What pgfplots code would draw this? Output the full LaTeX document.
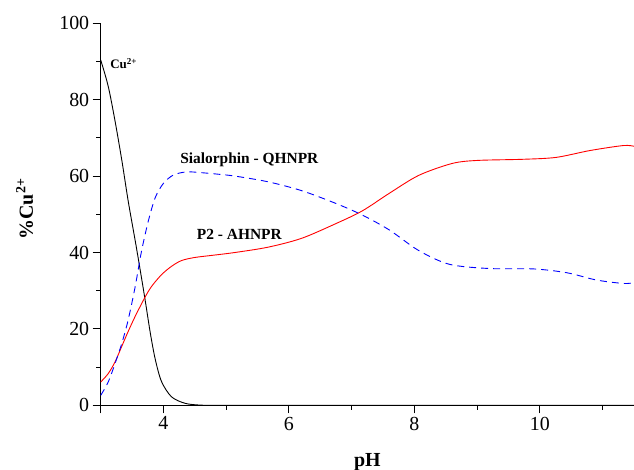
\documentclass[border=0pt]{standalone}
\usepackage{fontspec}
\setmainfont{Liberation Serif}
\usepackage{pgfplots}
\pgfplotsset{compat=1.18}
\begin{document}
\begin{tikzpicture}
\begin{axis}[
  scale only axis, width=533.3bp, height=382bp,
  xmin=3, xmax=11.5, ymin=0, ymax=100,
  axis lines*=left,
  xtick={3,4,6,8,10}, xticklabels={,4,6,8,10},
  minor xtick={5,7,9,11},
  ytick={0,20,40,60,80,100},
  minor ytick={10,30,50,70,90},
  tick align=outside,
  major tick length=8bp, minor tick length=4.5bp,
  tick style={black, line width=0.9bp},
  axis line style={line width=0.9bp},
  /pgf/number format/assume math mode=true,
  ticklabel style={font=\fontsize{20}{24}\selectfont},
  xlabel={pH}, ylabel={\%Cu\textsuperscript{2+}},
  label style={font=\fontsize{20}{24}\selectfont\bfseries},
  xlabel style={at={(axis description cs:0.5,0)}, anchor=base, yshift=-61bp},
  ylabel style={at={(axis description cs:-0.127,0.514)}, anchor=base},
]
\addplot[black, line width=0.9bp, smooth, tension=0.5] coordinates {
(3.00,90.4) (3.12,83.5) (3.23,74.3) (3.34,63.8) (3.44,53.3) (3.57,41.2)
(3.70,28.4) (3.79,19.0) (3.87,12.0) (3.97,6.2) (4.13,2.2) (4.35,0.5)
(4.60,0.05) (5.00,0) (8,0) (11.5,0)};
\addplot[red, line width=0.9bp, smooth, tension=0.5] coordinates {
(3.00,6.1) (3.12,8.3) (3.23,11.4) (3.34,15.6) (3.44,19.4) (3.55,23.3)
(3.70,28.1) (3.81,31.1) (3.97,34.2) (4.13,36.4) (4.29,37.9) (4.50,38.7)
(4.80,39.3) (5.14,40.0) (5.67,41.4) (6.20,43.7) (6.74,47.5) (7.17,50.9)
(7.60,55.5) (8.07,60.2) (8.60,63.3) (9.00,64.1) (9.73,64.4) (10.26,64.9)
(10.80,66.7) (11.33,68.0) (11.50,67.8)};
\addplot[blue, line width=0.9bp, smooth, tension=0.5, dash pattern=on 7bp off 5bp] coordinates {
(3.00,2.6) (3.12,6.1) (3.23,11.0) (3.34,16.4) (3.44,22.5) (3.55,31.1)
(3.65,40.3) (3.76,48.3) (3.87,54.4) (4.00,58.1) (4.16,60.3) (4.37,61.1)
(4.60,60.9) (4.87,60.5) (5.14,60.0) (5.67,58.5) (6.20,56.2) (6.74,52.9)
(7.17,49.8) (7.60,45.9) (8.07,40.5) (8.56,36.9) (9.20,35.8) (9.90,35.7)
(10.43,34.7) (10.90,32.8) (11.33,31.9) (11.50,32.1)};
\node[anchor=base west, font=\fontsize{13}{15}\selectfont\bfseries, inner sep=0pt] at (axis cs:3.15,88.2) {Cu\textsuperscript{2+}};
\node[anchor=base west, font=\fontsize{15.5}{18}\selectfont\bfseries, inner sep=0pt] at (axis cs:4.265,63.35) {Sialorphin - QHNPR};
\node[anchor=base west, font=\fontsize{15.5}{18}\selectfont\bfseries, inner sep=0pt] at (axis cs:4.53,43.3) {P2 - AHNPR};
\end{axis}
\pgfresetboundingbox
\path (-100.7bp,-64.7bp) rectangle (533.3bp,405.3bp);
\end{tikzpicture}
\end{document}
